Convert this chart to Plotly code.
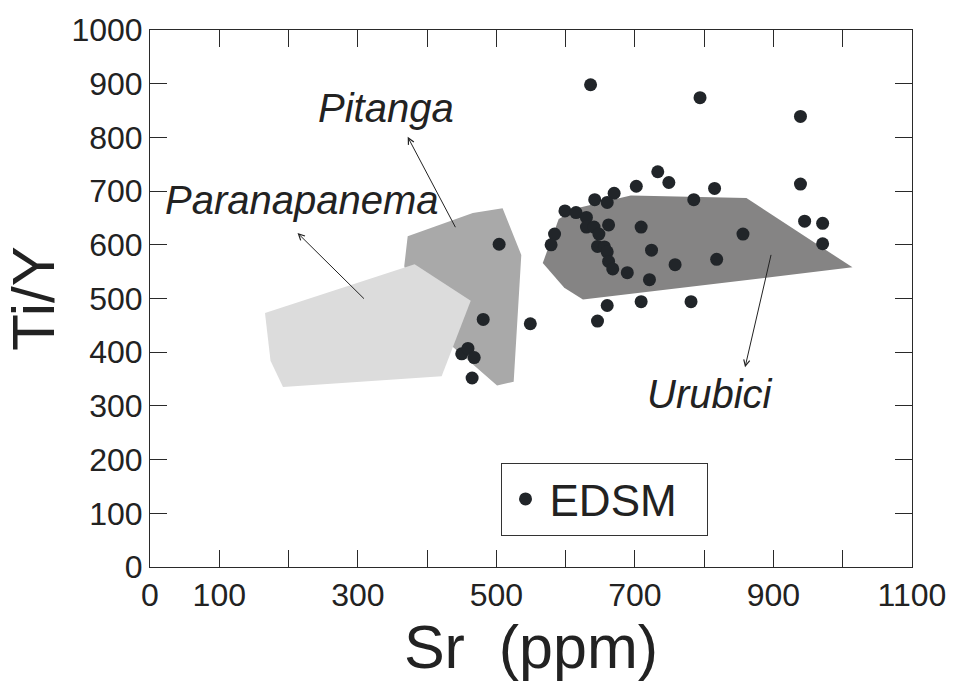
import plotly.graph_objects as go

# ---- data ----
edsm_sr = [636, 794, 939, 939, 945, 971, 971, 856,
           733, 749, 702, 815, 670, 642, 660, 785, 599, 615, 630, 630, 641, 662, 709,
           648, 584, 579, 646, 656, 660, 724, 662, 668, 689, 721, 758, 818,
           660, 709, 781, 646, 549,
           504, 481, 450, 459, 468, 465]
edsm_tiy = [898, 874, 839, 713, 644, 640, 602, 620,
            736, 716, 709, 705, 696, 684, 679, 684, 663, 660, 651, 633, 633, 637, 633,
            620, 620, 600, 597, 596, 587, 590, 569, 555, 548, 535, 563, 573,
            487, 494, 494, 458, 453,
            601, 461, 397, 407, 390, 352]

parana_sr = [166, 382, 463, 421, 192, 174]
parana_tiy = [473, 564, 496, 355, 335, 384]

pitanga_sr = [372, 466, 509, 536, 525, 501, 439, 400, 367]
pitanga_tiy = [616, 659, 668, 581, 345, 338, 408, 450, 560]

urubici_sr = [567, 590, 619, 694, 861, 1014, 625, 598]
urubici_tiy = [566, 648, 669, 692, 687, 558, 498, 520]

x_tickvals = [0, 100, 200, 300, 400, 500, 600, 700, 800, 900, 1000, 1100]
x_ticktext = ["0", "100", "", "300", "", "500", "", "700", "", "900", "", "1100"]
y_tickvals = [0, 100, 200, 300, 400, 500, 600, 700, 800, 900, 1000]

# labels: (text, x, y, arrow_tail_x, arrow_tail_y, arrow_head_x, arrow_head_y)
labels = [
    ("Paranapanema", 219, 683, 311, 497, 213, 622),
    ("Pitanga", 340, 855, 442, 630, 372, 801),
    ("Urubici", 809, 322, 897, 584, 859, 372),
]

FONT = "Liberation Sans, Arial, sans-serif"
AX = "#2a2a2a"

fig = go.Figure()
fig.add_trace(go.Scatter(x=pitanga_sr + [pitanga_sr[0]], y=pitanga_tiy + [pitanga_tiy[0]],
                         fill="toself", fillcolor="#a9a9a9", mode="lines",
                         line=dict(width=0, color="#a9a9a9"), showlegend=False, hoverinfo="skip"))
fig.add_trace(go.Scatter(x=parana_sr + [parana_sr[0]], y=parana_tiy + [parana_tiy[0]],
                         fill="toself", fillcolor="#dcdcdc", mode="lines",
                         line=dict(width=0, color="#dcdcdc"), showlegend=False, hoverinfo="skip"))
fig.add_trace(go.Scatter(x=urubici_sr + [urubici_sr[0]], y=urubici_tiy + [urubici_tiy[0]],
                         fill="toself", fillcolor="#858484", mode="lines",
                         line=dict(width=0, color="#858484"), showlegend=False, hoverinfo="skip"))
fig.add_trace(go.Scatter(x=edsm_sr, y=edsm_tiy, mode="markers", name="EDSM\u00a0\u00a0",
                         marker=dict(size=13, color="#212529", line=dict(width=0))))

for text, tx, ty, ax_, ay_, hx, hy in labels:
    fig.add_annotation(x=tx, y=ty, text="<i>" + text + "</i>", showarrow=False,
                       font=dict(family=FONT, size=40, color="#222"),
                       xanchor="center", yanchor="middle")
    fig.add_annotation(x=hx, y=hy, ax=ax_, ay=ay_, axref="x", ayref="y", xref="x", yref="y",
                       text="", showarrow=True, arrowhead=5, arrowsize=1.2, arrowwidth=1,
                       arrowcolor="#222")

fig.update_layout(
    width=958, height=683,
    margin=dict(l=150, r=44, t=18, b=116),
    paper_bgcolor="white", plot_bgcolor="white",
    font=dict(family=FONT, color="#222"),
    showlegend=True,
    legend=dict(x=0.46, y=0.194, xanchor="left", yanchor="top",
                font=dict(size=44, family=FONT, color="#222"),
                itemwidth=38,
                bordercolor="#333", borderwidth=1, bgcolor="white"),
    xaxis=dict(range=[0, 1100], tickvals=x_tickvals, ticktext=x_ticktext,
               ticks="inside", ticklen=17, tickcolor=AX, tickwidth=1,
               showline=True, linecolor=AX, linewidth=1, mirror="ticks",
               showgrid=False, zeroline=False,
               tickfont=dict(size=32, family=FONT, color="#222"),
               title=dict(text="Sr\u00a0\u00a0(ppm)", font=dict(size=61, family=FONT, color="#222"),
                          standoff=8)),
    yaxis=dict(range=[0, 1000], tickvals=y_tickvals,
               ticks="inside", ticklen=17, tickcolor=AX, tickwidth=1,
               showline=True, linecolor=AX, linewidth=1, mirror="ticks",
               showgrid=False, zeroline=False,
               tickfont=dict(size=32, family=FONT, color="#222"),
               title=dict(text="Ti/Y", font=dict(size=60, family=FONT, color="#222"),
                          standoff=10)),
)

fig.write_html("out.html")
